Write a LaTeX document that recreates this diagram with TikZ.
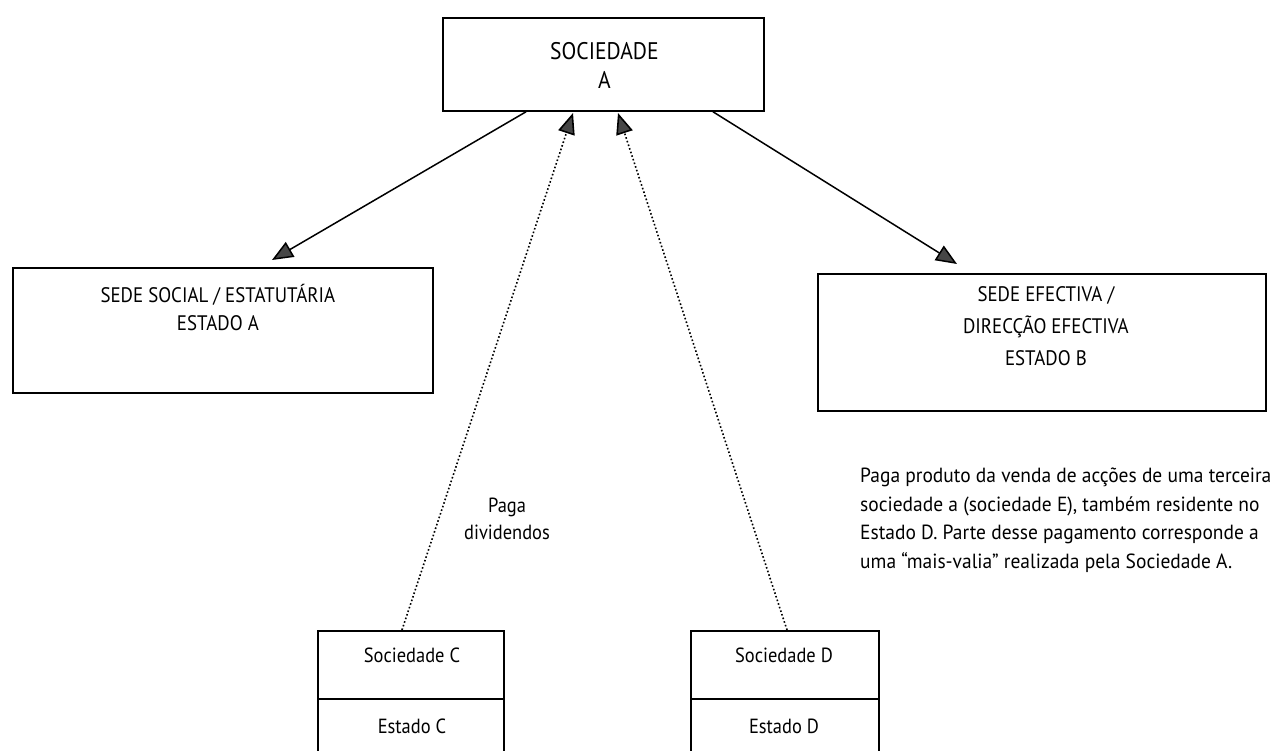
\documentclass[tikz,border=0pt]{standalone}
\usepackage{fontspec}
\setmainfont[FakeStretch=0.9]{PT Sans}
\newfontfamily\parafont[FakeStretch=0.95]{PT Sans}
\usetikzlibrary{arrows.meta,calc}
\begin{document}
\begin{tikzpicture}[x=1pt,y=-1pt,
  box/.style={draw, line width=1.8pt, inner sep=0pt},
  big/.style={font=\fontsize{21}{28}\selectfont, align=center, inner sep=0pt},
  small/.style={font=\fontsize{20.5}{27}\selectfont, inner sep=0pt},
  para/.style={font=\parafont\fontsize{20.5}{28.5}\selectfont, inner sep=0pt, align=left},
  tipstyle/.style={-{Triangle[length=21pt,width=17pt,fill=gray!55!black]}},
  conn/.style={line width=1.5pt, tipstyle},
  dotconn/.style={line width=1.6pt, dash pattern=on 1.6pt off 2.2pt, tipstyle},
]
\useasboundingbox (0,0) rectangle (1288,751);
% boxes
\node[box, minimum width=321pt, minimum height=93pt, anchor=north west] (A) at (442,17) {};
\node[box, minimum width=420pt, minimum height=125pt, anchor=north west] (SS) at (12,267) {};
\node[box, minimum width=448pt, minimum height=137pt, anchor=north west] (SE) at (817,273) {};
\node[box, minimum width=186pt, minimum height=150pt, anchor=north west] (C) at (317,630) {};
\node[box, minimum width=188pt, minimum height=150pt, anchor=north west] (D) at (690,630) {};
\draw[line width=1.8pt] (C.west |- 0,699) -- (C.east |- 0,699);
\draw[line width=1.8pt] (D.west |- 0,699) -- (D.east |- 0,699);
% texts
\node[big, font=\fontsize{24}{29}\selectfont] (At) at ($(A.center)+(1,1)$) {SOCIEDADE\\A};
\node[big, anchor=north] (SSt) at ($(SS.north)+(-5,17)$) {SEDE SOCIAL / ESTATUTÁRIA\\ESTADO A};
\node[big, font=\fontsize{21}{32}\selectfont, anchor=north] (SEt) at ($(SE.north)+(4,13)$) {SEDE EFECTIVA /\\DIRECÇÃO EFECTIVA\\ESTADO B};
\node[small] (Ct) at (412,655) {Sociedade C};
\node[small] (Cs) at (412,726) {Estado C};
\node[small] (Dt) at (784,655) {Sociedade D};
\node[small] (Ds) at (784,726) {Estado D};
\node[small, align=center] (PD) at (507,519) {Paga\\dividendos};
\node[para, anchor=north west] (PP) at (860,468) {Paga produto da venda de acções de uma terceira\\sociedade a (sociedade E), também residente no\\Estado D. Parte desse pagamento corresponde a\\uma “mais-valia” realizada pela Sociedade A.};
% connectors
\coordinate (tL) at (272,260);
\coordinate (tR) at (957,264);
\coordinate (tC) at (573,113);
\coordinate (tD) at (618,113);
\draw[conn] ($(A.south west)+(84,0)$) -- (tL);
\draw[conn] ($(A.south west)+(271,0)$) -- (tR);
\draw[dotconn] ($(C.north west)+(85,0)$) -- (tC);
\draw[dotconn] ($(D.north west)+(97,0)$) -- (tD);
\end{tikzpicture}
\end{document}
